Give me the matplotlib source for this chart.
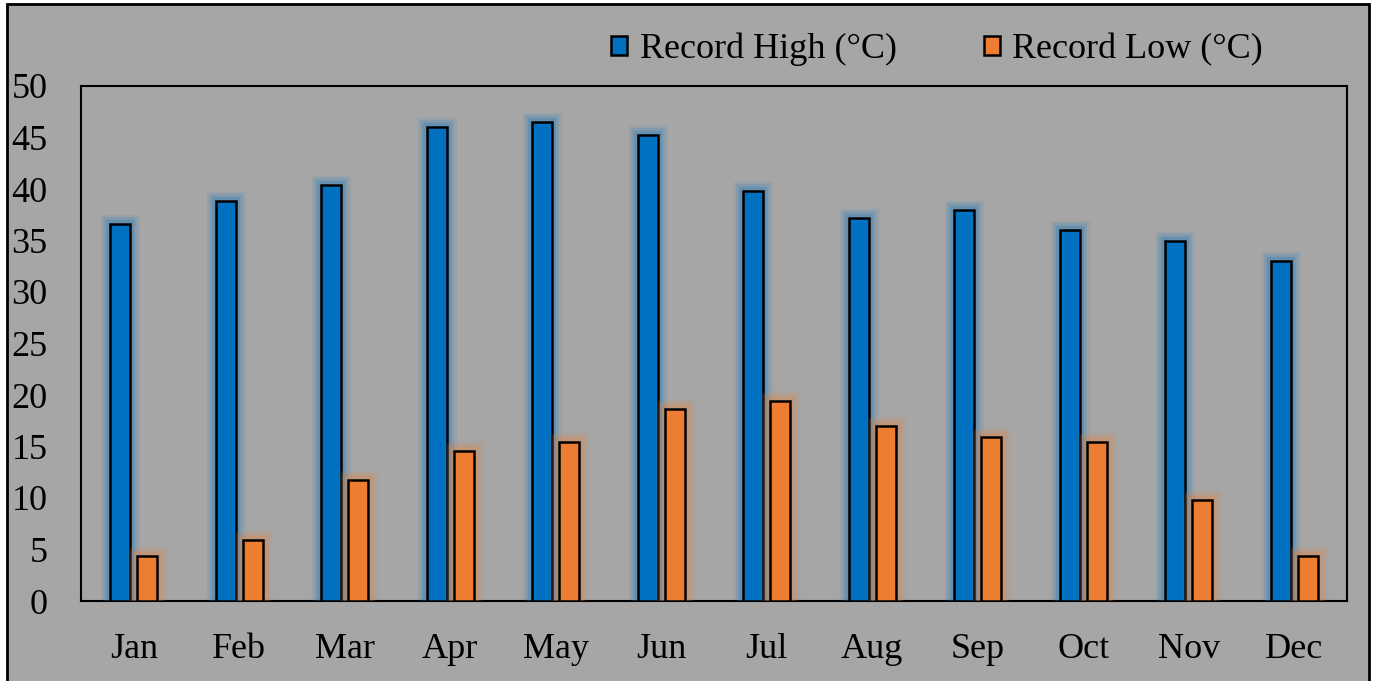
import numpy as np
import matplotlib
matplotlib.use("Agg")
import matplotlib.pyplot as plt
import matplotlib.patheffects as pe
from matplotlib.patches import Rectangle

# DATA

months = ["Jan", "Feb", "Mar", "Apr", "May", "Jun", "Jul", "Aug", "Sep", "Oct", "Nov", "Dec"]
record_high = [36.6, 38.8, 40.4, 46.0, 46.5, 45.2, 39.8, 37.2, 38.0, 36.0, 35.0, 33.0]
record_low = [4.4, 5.9, 11.7, 14.6, 15.4, 18.6, 19.4, 17.0, 15.9, 15.4, 9.8, 4.4]

blue = "#0070C0"
orange = "#ED7D31"
gray = "#A6A6A6"

plt.rcParams["font.family"] = ["Liberation Serif", "DejaVu Serif"]

fig = plt.figure(figsize=(13.73, 6.81), dpi=100, facecolor="white")

# outer gray frame
fig.patches.append(Rectangle((7 / 1373, -0.01), 1362 / 1373, 1.0 - 4 / 681 + 0.01,
                             transform=fig.transFigure, facecolor=gray,
                             edgecolor="black", linewidth=2, zorder=-10))

ax = fig.add_axes([81 / 1373, 1 - 601 / 681, (1347 - 81) / 1373, (601 - 86) / 681])
ax.set_facecolor(gray)

x = np.arange(len(months))
w = 0.19
off = 0.126


def glow(color):
    return [pe.Stroke(linewidth=14, foreground=color, alpha=0.08),
            pe.Stroke(linewidth=10, foreground=color, alpha=0.14),
            pe.Stroke(linewidth=6, foreground=color, alpha=0.22),
            pe.Normal()]


hb = ax.bar(x - off, record_high, w, color=blue, edgecolor="black", linewidth=1.8,
            label="Record High (°C)", zorder=3)
lb = ax.bar(x + off, record_low, w, color=orange, edgecolor="black", linewidth=1.8,
            label="Record Low (°C)", zorder=3)
for b in hb:
    b.set_path_effects(glow(blue))
for b in lb:
    b.set_path_effects(glow(orange))

ax.set_xlim(-0.5, len(months) - 0.5)
ax.set_ylim(0, 50)
ax.set_yticks(range(0, 51, 5))
ax.set_xticks(x)
ax.set_xticklabels(months)
ax.tick_params(axis="both", length=0, labelsize=26, colors="black")
ax.tick_params(axis="x", pad=23)
ax.tick_params(axis="y", pad=24)
for s in ax.spines.values():
    s.set_color("black")
    s.set_linewidth(1.5)

leg = fig.legend(handles=[hb, lb], loc="center", bbox_to_anchor=(0.6825, 0.927),
                 ncol=2, frameon=False, fontsize=26, handlelength=0.45,
                 handleheight=0.45, handletextpad=0.35, columnspacing=2.4)
for h in leg.legend_handles:
    h.set_path_effects([])

fig.savefig("out.png", dpi=100, facecolor="white")
